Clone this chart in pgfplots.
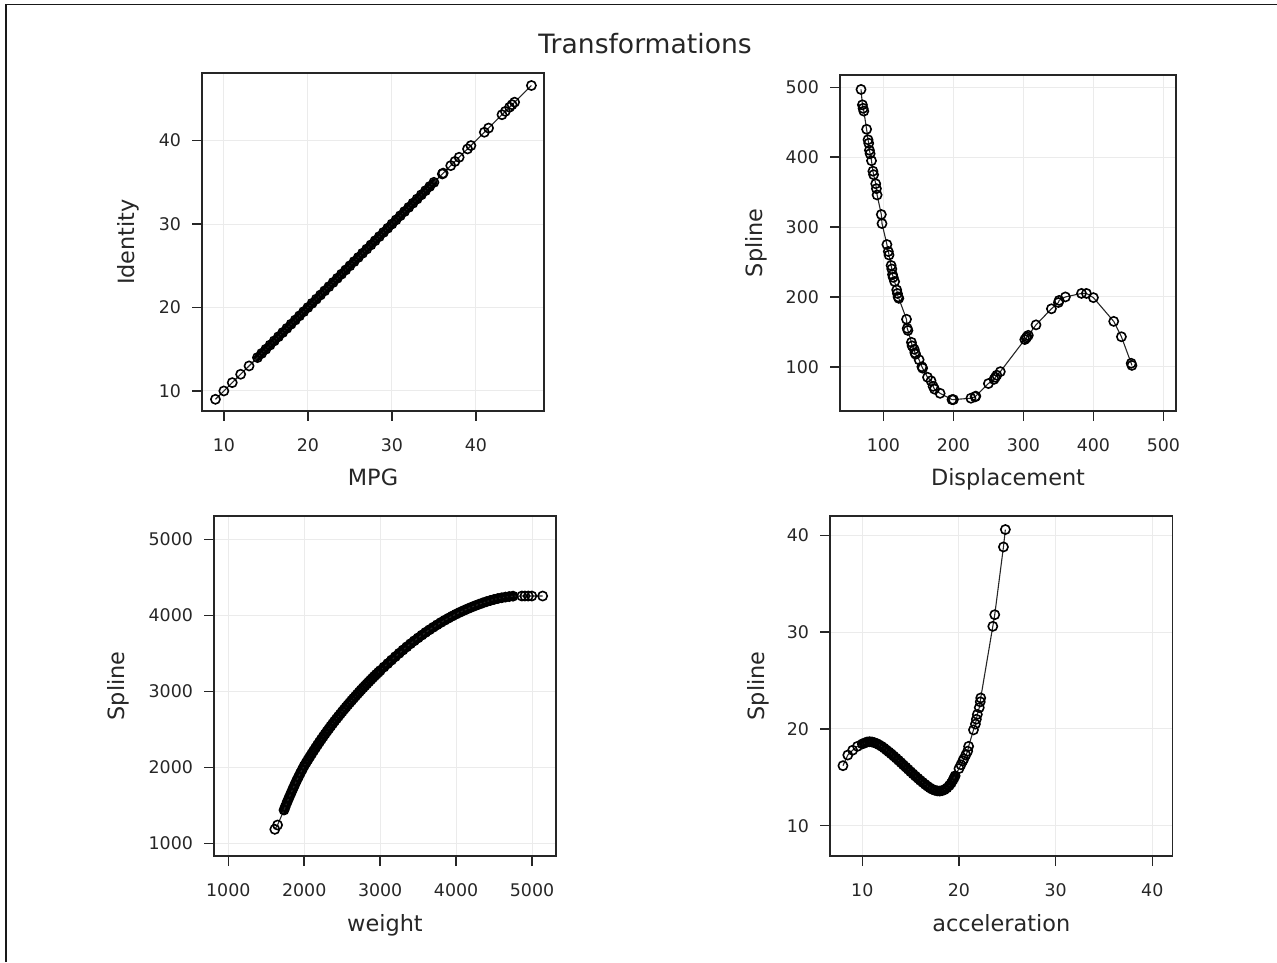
\documentclass[border=0pt]{standalone}
\usepackage{pgfplots}
\usepackage{pgfplotstable}
\pgfplotsset{compat=1.18}
\usepackage{fontspec}
\setmainfont{DejaVu Sans}
\pgfplotsset{
  panel/.style={
    scale only axis, anchor=south west,
    axis line style={line width=0.75pt, black!85},
    tick align=outside,
    major tick style={black!85, line width=0.75pt},
    major tick length=5pt,
    xtick pos=bottom, ytick pos=left,
    grid=major,
    major grid style={line width=0.5pt, black!8},
    tick label style={font=\fontsize{8.7}{10}\selectfont, text=black!85},
    label style={font=\fontsize{11.2}{13}\selectfont, text=black!85},
    xticklabel shift=5.3pt, yticklabel shift=2pt,
    /pgf/number format/assume math mode=true,
    /pgf/number format/1000 sep={},
    scaled ticks=false,
    xlabel style={at={(axis description cs:0.5,0)}, anchor=base, yshift=-37.5pt},
  },
  ser/.style={black!85, line width=0.55pt, mark=o, mark size=2.3pt,
    mark options={line width=0.8pt, black}},
  band/.style={black, line width=#1, no marks, line join=round, line cap=round},
}
\pgfplotstableread{
x y
9 9
10 10
11 11
12 12
13 13
14 14
14.5 14.5
15 15
15.5 15.5
16 16
16.5 16.5
17 17
17.5 17.5
18 18
18.5 18.5
19 19
19.5 19.5
20 20
20.5 20.5
21 21
21.5 21.5
22 22
22.5 22.5
23 23
23.5 23.5
24 24
24.5 24.5
25 25
25.5 25.5
26 26
26.5 26.5
27 27
27.5 27.5
28 28
28.5 28.5
29 29
29.5 29.5
30 30
30.5 30.5
31 31
31.5 31.5
32 32
32.5 32.5
33 33
33.5 33.5
34 34
34.5 34.5
35 35
36 36
36.1 36.1
37 37
37.5 37.5
38 38
39 39
39.4 39.4
41 41
41.5 41.5
43.1 43.1
43.5 43.5
44 44
44.3 44.3
44.6 44.6
46.6 46.6
}\mpgdata
\pgfplotstableread{
x y
68 497
70 475
71 470
72 466
76 440
78 425
79 420
80 410
81 405
83 395
85 380
86 375
89 362
90 355
91 346
97 318
98 305
105 275
107 265
108 260
111 245
112 240
113 232
114 228
116 222
119 210
120 205
121 200
122 198
133 168
134 155
135 152
140 135
141 130
144 125
145 120
146 118
151 110
155 100
156 98
163 85
168 80
171 72
173 68
181 62
198 53
200 53
225 55
231 57
232 58
250 76
258 82
260 85
262 88
267 93
302 139
304 141
305 143
307 145
318 160
340 183
350 192
351 195
360 200
383 205
390 205
400 199
429 165
440 143
454 105
455 102
}\dispdata
\pgfplotstableread{
x y
1613 1184
1649 1241
1734 1438
1750 1480
1775 1542
1800 1601
1825 1657
1850 1715
1875 1770
1900 1825
1925 1875
1950 1925
1975 1972
2000 2020
2025 2061
2050 2101
2075 2141
2100 2180
2125 2219
2150 2257
2175 2295
2200 2332
2225 2368
2250 2404
2275 2439
2300 2474
2325 2508
2350 2542
2375 2575
2400 2607
2425 2639
2450 2670
2475 2701
2500 2732
2525 2762
2550 2792
2575 2822
2600 2851
2625 2880
2650 2908
2675 2936
2700 2964
2725 2992
2750 3019
2775 3046
2800 3072
2825 3098
2850 3124
2875 3150
2900 3175
2925 3200
2950 3224
2975 3248
3000 3272
3050 3319
3100 3365
3150 3411
3200 3456
3250 3500
3300 3543
3350 3585
3400 3626
3450 3665
3500 3703
3550 3740
3600 3776
3650 3810
3700 3843
3750 3875
3800 3906
3850 3935
3900 3963
3950 3990
4000 4016
4050 4040
4100 4063
4150 4085
4200 4106
4250 4126
4300 4145
4350 4163
4400 4180
4450 4195
4500 4209
4550 4221
4600 4231
4650 4240
4700 4247
4750 4252
4866 4254
4906 4254
4951 4254
4997 4254
5140 4254
}\weightdata
\pgfplotstableread{
x y
8.0 16.2
8.5 17.3
9.0 17.8
9.5 18.2
10.0 18.45
10.25 18.55
10.5 18.65
10.75 18.68
11.0 18.65
11.25 18.58
11.5 18.48
11.75 18.35
12.0 18.2
12.25 18.02
12.5 17.82
12.75 17.62
13.0 17.42
13.25 17.2
13.5 16.98
13.75 16.75
14.0 16.52
14.25 16.28
14.5 16.05
14.75 15.82
15.0 15.58
15.25 15.35
15.5 15.12
15.75 14.9
16.0 14.68
16.25 14.47
16.5 14.27
16.75 14.08
17.0 13.9
17.25 13.76
17.5 13.66
17.75 13.6
18.0 13.58
18.25 13.62
18.5 13.72
18.75 13.9
19.0 14.15
19.2 14.4
19.4 14.75
19.5 14.95
19.6 15.15
20.0 15.9
20.2 16.3
20.4 16.7
20.5 16.9
20.7 17.3
20.9 17.7
21.0 18.2
21.5 19.9
21.7 20.5
21.8 21.0
21.9 21.5
22.1 22.2
22.2 22.8
22.25 23.2
23.5 30.6
23.7 31.8
24.6 38.8
24.8 40.6
}\acceldata
\begin{document}
\begin{tikzpicture}
\useasboundingbox (0,0) rectangle (638.5pt,481pt);
\draw[black!90, line width=0.8pt] (3pt,0) -- (3pt,478.7pt) -- (638.5pt,478.7pt);
\node[anchor=base, font=\fontsize{13.3}{15}\selectfont, text=black!85] at (322.5pt,454.4pt) {Transformations};

% Panel 1: MPG identity
\begin{axis}[panel, at={(101pt,275.5pt)}, width=171pt, height=169pt,
  xmin=7.4, xmax=48.1, ymin=7.6, ymax=48.1,
  xtick={10,20,30,40}, ytick={10,20,30,40},
  xlabel={MPG}, ylabel={Identity},
  ylabel style={at={(axis description cs:0,0.5)}, anchor=center, yshift=37pt}]
\addplot[band=3.8pt, restrict x to domain=14:35] table {\mpgdata};
\addplot[ser] table {\mpgdata};
\end{axis}

% Panel 2: Displacement spline
\begin{axis}[panel, at={(420pt,275.6pt)}, width=168pt, height=168pt,
  xmin=38, xmax=518, ymin=37, ymax=518,
  xtick={100,200,300,400,500}, ytick={100,200,300,400,500},
  xlabel={Displacement}, ylabel={Spline},
  ylabel style={at={(axis description cs:0,0.5)}, anchor=center, yshift=42pt}]
\addplot[ser] table {\dispdata};
\end{axis}

% Panel 3: weight spline
\begin{axis}[panel, at={(107pt,53pt)}, width=171pt, height=170pt,
  xmin=812, xmax=5316, ymin=833, ymax=5307,
  xtick={1000,2000,3000,4000,5000}, ytick={1000,2000,3000,4000,5000},
  xlabel={weight}, ylabel={Spline},
  ylabel style={at={(axis description cs:0,0.5)}, anchor=center, yshift=48pt}]
\addplot[band=4.6pt, restrict x to domain=1734:4750] table {\weightdata};
\addplot[ser] table {\weightdata};
\end{axis}

% Panel 4: acceleration spline
\begin{axis}[panel, at={(415pt,53pt)}, width=171.3pt, height=170pt,
  xmin=6.66, xmax=42.1, ymin=6.87, ymax=42,
  xtick={10,20,30,40}, ytick={10,20,30,40},
  xlabel={acceleration}, ylabel={Spline},
  ylabel style={at={(axis description cs:0,0.5)}, anchor=center, yshift=35.8pt}]
\addplot[band=4.4pt, restrict x to domain=10:19.6] table {\acceldata};
\addplot[ser] table {\acceldata};
\end{axis}
\end{tikzpicture}
\end{document}
